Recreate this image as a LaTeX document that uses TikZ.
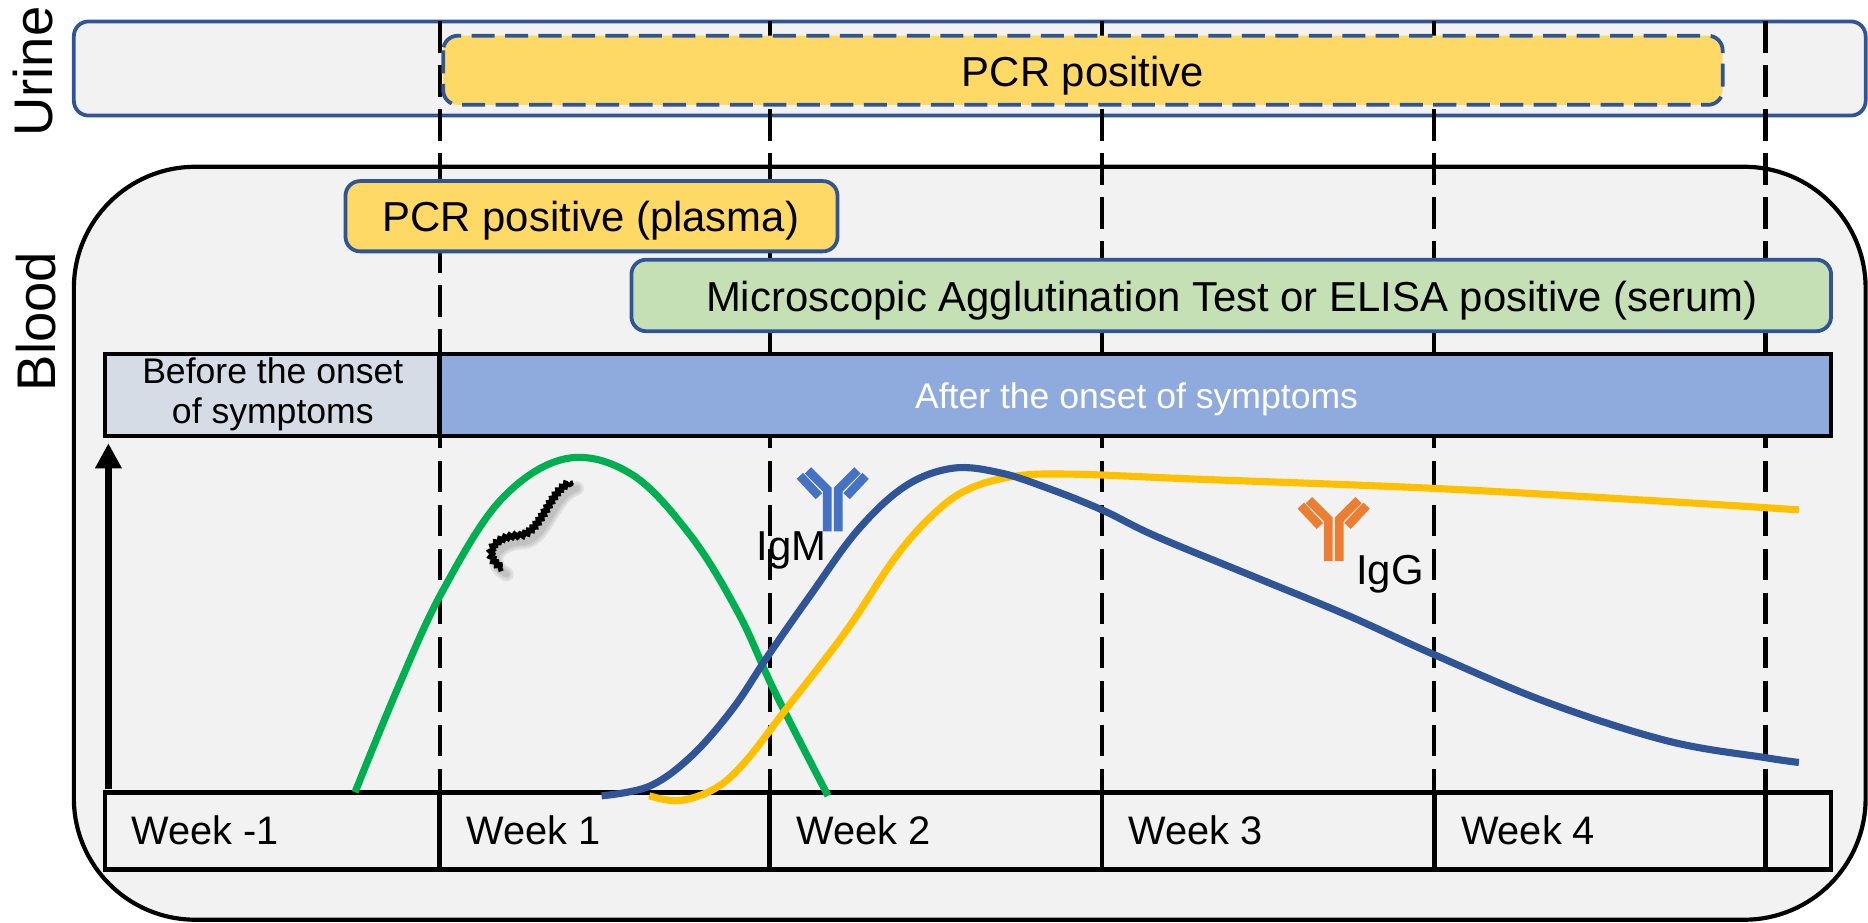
\documentclass[tikz,border=0pt]{standalone}
\usepackage{fontspec}
\setmainfont{Liberation Sans}
\usetikzlibrary{arrows.meta,decorations.pathmorphing}

\definecolor{panelgray}{HTML}{F2F2F2}
\definecolor{edgeblue}{HTML}{2F5597}
\definecolor{pcryellow}{HTML}{FFD966}
\definecolor{matgreen}{HTML}{C5E0B4}
\definecolor{beforegray}{HTML}{D6DCE5}
\definecolor{afterblue}{HTML}{8FAADC}
\definecolor{bactgreen}{HTML}{00B050}
\definecolor{igmline}{HTML}{2F5597}
\definecolor{iggline}{HTML}{FFC000}
\definecolor{igmicon}{HTML}{4472C4}
\definecolor{iggicon}{HTML}{ED7D31}

\begin{document}
\begin{tikzpicture}[x=0.02cm, y=-0.02cm,
  lbl/.style={font=\fontsize{20}{24}\selectfont, inner sep=0pt, text height=14.3pt, text depth=0pt},
  small/.style={font=\fontsize{17}{19.5}\selectfont, inner sep=0pt},
  sidelabel/.style={font=\fontsize{26}{30}\selectfont, inner sep=0pt, rotate=90},
  testbox/.style={draw=edgeblue, line width=1.8pt, rounded corners=7pt},
  weekline/.style={dash pattern=on 15pt off 6pt, line width=2pt},
  phasebox/.style={draw=black, line width=2.2pt},
  curve/.style={line width=3.4pt, smooth, tension=0.6},
  antibody/.pic={
    \draw[line width=4.2pt] (-4.6,35) -- (-4.6,0) -- (-20.8,-16.2);
    \draw[line width=4.2pt] (4.6,35) -- (4.6,0) -- (20.8,-16.2);
    \draw[line width=4.2pt] (-11.6,5.5) -- (-27.6,-11.6);
    \draw[line width=4.2pt] (11.6,5.5) -- (27.6,-11.6);
  }]

\useasboundingbox (0,0) rectangle (1568,774);

% urine and blood panels
\draw[draw=edgeblue, line width=1.8pt, fill=panelgray, rounded corners=7pt] (62,18) rectangle (1566,97);
\draw[line width=2pt, fill=panelgray, rounded corners=58pt] (62,140) rectangle (1566,772);

\node[sidelabel] (urine) at (28,60) {Urine};
\node[sidelabel] (blood) at (30,270) {Blood};

% week boundaries
\foreach \x in {369,646,925,1204,1482}
  \draw[weekline] (\x,18) -- (\x,665);

% test windows
\draw[testbox, dash pattern=on 11pt off 5pt, fill=pcryellow] (372,30) rectangle (1446,88);
\node[lbl] (pcrurine) at (909,60) {PCR positive};

\draw[testbox, fill=pcryellow] (290,152) rectangle (703,211);
\node[lbl] (pcrplasma) at (496,182) {PCR positive (plasma)};

\draw[testbox, fill=matgreen] (530,218) rectangle (1537,278);
\node[lbl] (mat) at (1034,249) {Microscopic Agglutination Test or ELISA positive (serum)};

% onset of symptoms
\draw[phasebox, fill=beforegray] (88,297) rectangle (369,366);
\draw[phasebox, fill=afterblue] (369,297) rectangle (1537,366);
\node[small, align=center] (before) at (229,331) {Before the onset\\of symptoms};
\node[small, white, text height=12.2pt, text depth=0pt] (after) at (954,332) {After the onset of symptoms};

% weeks
\draw[phasebox] (88,665) rectangle (1537,730);
\foreach \x in {369,646,925,1204,1482}
  \draw[phasebox] (\x,665) -- (\x,730);
\foreach \x/\wtext [count=\i] in {88/Week -1,369/Week 1,646/Week 2,925/Week 3,1204/Week 4}
  \node[lbl, font=\fontsize{19}{23}\selectfont, text height=13.6pt, anchor=west] (week\i) at (\x+22,697) {\wtext};

% level axis
\coordinate (axisbot) at (91,662);
\coordinate (axistop) at (91,372);
\draw[-{Triangle[width=12pt,length=12pt]}, line width=3.6pt] (axisbot) -- (axistop);

% bacteraemia, IgM and IgG
\draw[bactgreen, curve] plot coordinates {(298,665) (335,575) (371,497) (420,420) (475,385) (530,398) (580,450) (620,515) (650,580) (695,668)};
\draw[iggline, curve] plot coordinates {(545,668) (570,672) (600,662) (625,640) (660,595) (710,530) (750,470) (780,435) (810,412) (850,400) (900,398) (1000,402) (1205,410) (1400,421) (1510,428)};
\draw[igmline, curve] plot coordinates {(505,668) (545,660) (580,635) (615,595) (645,550) (680,500) (720,445) (760,408) (800,393) (840,397) (880,410) (925,428) (970,450) (1050,483) (1130,516) (1205,550) (1300,590) (1400,622) (1482,636) (1510,640)};

% leptospire with a soft shadow
\foreach \w in {7,5,3}
  \draw[black, opacity=0.07, line width=\w pt, line cap=round, shift={(3,5)}] (422,477) .. controls (404,466) and (416,450) .. (437,450) .. controls (456,447) and (462,410) .. (481,405);
\draw[decorate, decoration={snake, amplitude=1pt, segment length=2.4pt}, line width=2.1pt] (422,477) .. controls (404,466) and (416,450) .. (437,450) .. controls (456,447) and (462,410) .. (481,405);

% antibodies
\pic[igmicon] (igm) at (699,411) {antibody};
\pic[iggicon] (igg) at (1119.5,436) {antibody};
\node[lbl, anchor=east] (igmlabel) at (694,458) {IgM};
\node[lbl, anchor=west] (igglabel) at (1138,478) {IgG};

\end{tikzpicture}
\end{document}
